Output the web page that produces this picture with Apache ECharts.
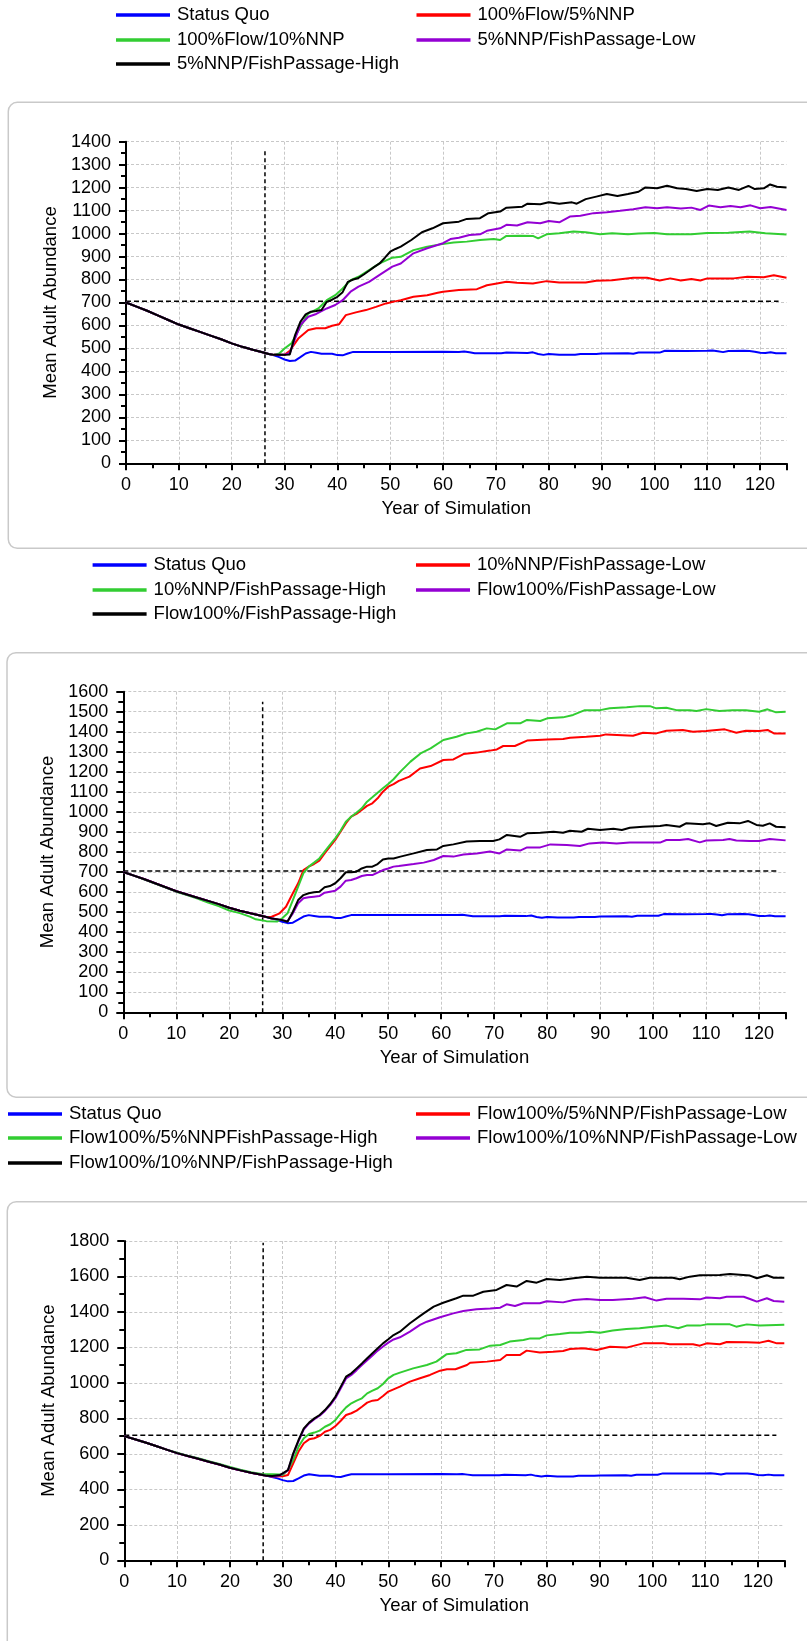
<!DOCTYPE html>
<html>
<head>
<meta charset="utf-8">
<script src="https://cdn.jsdelivr.net/npm/echarts@6/dist/echarts.min.js"></script>
<style>
  html, body { margin: 0; padding: 0; background: #ffffff; }
  #chart { width: 807px; height: 1641px; }
</style>
</head>
<body>
<div id="chart"></div>
<script>
// Simulated mean adult abundance by year, three scenario groups.

// Shared early decline (years 0-27) before management actions take effect
const decline = [[0,700],[2,682],[4,664],[6,644],[8,624],[10,604],[12,588],[14,572],[16,556],[18,540],[20,522],[22,507],[24,494],[26,482],[27,476]];

// Status Quo (same run in every group)
const statusQuo = decline.concat([[28,470],[29,462],[30,452],[31,445],[32,447],[33,462],[34,478],[35,485],[36,481],[37,477],[39,477],[40,471],[41,470],[42,478],[43,485],[50,485],[60,486],[63,485],[64,487],[65,483],[66,479],[71,479],[72,482],[76,480],[77,483],[78,476],[79,472],[80,476],[82,473],[85,473],[86,476],[89,476],[90,478],[95,479],[96,477],[97,482],[101,482],[102,490],[106,489],[110,490],[111,491],[112,488],[113,484],[114,489],[117,490],[118,489],[119,486],[120,481],[121,480],[122,483],[123,479],[125,479]]);

// Group 1
const g1Flow5 = decline.concat([[28,472],[30,472],[31,490],[32.6,543],[34.5,580],[36,588],[37.7,588],[39,599],[40.3,605],[41.6,645],[43.5,657],[45.4,667],[47.3,681],[49.2,696],[51.1,706],[52,710],[54.4,725],[57,732],[59,742],[60,747],[63,754],[66.4,758],[68.3,775],[70.2,783],[72,790],[74,786],[77,783],[79.6,793],[82,787],[87,787],[89,795],[92,797],[96,808],[98.6,808],[101,796],[103,805],[105,796],[107,802],[108.7,796],[110,805],[115,805],[117.6,812],[120.7,810],[122.6,819],[125,808]]);
const g1Flow10 = decline.concat([[28,472],[29,478],[30,500],[31.3,522],[33.2,602],[34.5,652],[36.4,674],[38,710],[39.6,732],[41,761],[42.5,797],[44,812],[46,841],[48,870],[50.4,895],[52,899],[54.4,928],[57,943],[59.5,953],[62,961],[64.5,965],[67,972],[69.6,976],[70.8,972],[72,990],[74.6,991],[77,990],[78,979],[79.6,997],[82,1001],[84.7,1009],[87,1006],[89.7,997],[92,1001],[95,997],[97,1000],[100,1003],[102.4,997],[107,997],[110,1003],[114,1004],[118,1009],[121,1001],[125,996]]);
const g1PassLow = decline.concat([[28,472],[30,472],[31,480],[32,543],[33,602],[34.5,638],[36,650],[38,674],[39.6,689],[41,710],[42.5,747],[44,769],[46,790],[48,820],[50.4,856],[52,870],[54.4,914],[57,936],[60,958],[61.4,976],[63,982],[65,994],[67,997],[68.3,1012],[70.8,1023],[72,1038],[74,1035],[76,1049],[78.4,1045],[80,1055],[82,1049],[84,1074],[86,1078],[88.5,1089],[91,1093],[93.5,1099],[96,1106],[98.3,1115],[100.5,1110],[102.4,1115],[105,1109],[107,1113],[108.7,1103],[110.3,1122],[112.5,1115],[114.4,1120],[116.3,1115],[118.2,1123],[120,1110],[122,1116],[125,1103]]);
const g1PassHigh = decline.concat([[28,472],[30,472],[31,474],[32,558],[33,616],[34,648],[35,660],[36,663],[37,667],[38,703],[39,712],[40,725],[41,745],[42,790],[43,800],[44,807],[45,822],[46,838],[47,855],[48,870],[49,895],[50,921],[51,933],[52,943],[54,972],[56,1006],[58,1023],[60,1045],[63,1052],[64.5,1064],[67,1067],[68.6,1089],[70.8,1096],[72,1113],[75,1117],[76,1130],[78.4,1128],[80,1136],[82,1130],[84.4,1136],[85.3,1130],[87,1150],[89,1161],[91,1172],[93,1164],[95,1172],[97,1182],[98.3,1201],[100.5,1197],[102.4,1208],[104.3,1197],[106,1194],[108,1185],[110,1194],[112,1190],[114,1201],[116,1190],[117.8,1208],[119,1194],[120.7,1197],[121.9,1214],[123.2,1204],[125,1201]]);

// Group 2
const g2NnpLow = decline.concat([[28,477],[29.5,494],[30.7,527],[32,594],[33,644],[34,710],[35,727],[36,740],[37,757],[38,793],[39,827],[40,860],[41,901],[42,943],[43,976],[44,990],[45,1010],[46,1030],[47,1043],[48,1068],[49,1101],[50,1126],[51,1139],[52,1155],[54,1176],[56,1217],[58,1229],[60.4,1259],[62.3,1262],[64.2,1289],[66.7,1296],[69.2,1306],[70.5,1312],[71.7,1329],[73.9,1329],[76.2,1356],[80,1362],[83,1364],[84.3,1370],[87.4,1375],[90,1380],[91.1,1387],[96.2,1380],[98.1,1395],[100.6,1392],[102.5,1405],[105.6,1409],[107.5,1400],[110,1404],[113.5,1412],[115.7,1395],[117.5,1405],[120,1404],[121.6,1409],[122.8,1392],[125,1392]]);
const g2NnpHigh = [[0,700],[2,682],[4,662],[6,642],[8,622],[10,602],[12,585],[14,568],[16,548],[18,530],[20,508],[22,495],[24,476],[25,464],[27,455],[29,453],[30,469],[31,494],[32,560],[33,627],[34,694],[35,727],[36,747],[37,768],[38,802],[39,835],[40,868],[41,906],[42,951],[43,976],[44,996],[45,1018],[46,1051],[47,1073],[48,1096],[49,1118],[50,1139],[51,1163],[52.3,1201],[54.2,1251],[56.1,1292],[58,1317],[60.4,1359],[62.9,1375],[64.8,1392],[66.7,1400],[68.6,1417],[70.2,1412],[72.4,1442],[74.9,1442],[76.2,1459],[78.7,1454],[80,1467],[83,1472],[84.9,1484],[87.1,1508],[90,1508],[91.8,1517],[95,1522],[97.5,1528],[99.4,1528],[100.6,1517],[102.5,1520],[104.4,1508],[106.9,1508],[108.2,1504],[110,1513],[112.5,1504],[115,1508],[117.5,1508],[120,1500],[121.6,1512],[123.2,1497],[125,1500]];
const g2FlowLow = decline.concat([[28,468],[29,465],[30,460],[31,455],[32,494],[33,544],[34,569],[35,574],[36,577],[37,580],[38,597],[39,602],[40,607],[41,627],[42,657],[43,660],[44,669],[45,680],[46,685],[47,685],[48,697],[49,710],[50,718],[51,727],[52,730],[54.8,740],[56.7,747],[58.6,760],[60.4,780],[62.3,777],[64.2,788],[66.7,793],[69.2,802],[71,793],[72.4,813],[74.9,807],[76.2,823],[78.7,823],[80.6,838],[83.7,835],[86.2,830],[88,843],[90.5,847],[93.1,843],[95.6,847],[101.3,847],[102.5,860],[105,860],[106.6,865],[108.8,848],[110,857],[113.2,860],[114.4,865],[115.7,857],[118.2,855],[120,855],[122,865],[125,858]]);
const g2FlowHigh = decline.concat([[28,468],[29,465],[30,460],[31,452],[32,502],[33,560],[34,585],[35,594],[36,599],[37,602],[38,624],[39,630],[40,644],[41,669],[42,699],[43,699],[44,702],[45,718],[46,727],[47,727],[48,740],[49,763],[50,768],[51,768],[52.3,777],[54.8,793],[57.3,810],[59.2,813],[60.4,830],[62.3,838],[64.8,852],[67.3,855],[69.8,855],[71,863],[72.4,885],[74.9,876],[76.2,893],[78.7,896],[81.2,901],[83,896],[84.3,906],[86.5,901],[87.7,916],[90,910],[92.5,916],[94.1,910],[95.6,921],[98.1,926],[101.3,930],[102.5,935],[105,926],[106.2,943],[109.4,938],[110.7,943],[111.9,930],[114.1,946],[116.3,943],[117.9,955],[119.5,935],[120.7,931],[122,943],[123.2,926],[125,923]]);

// Group 3
const g3Nnp5Low = decline.concat([[28,472],[30,474],[31,481],[32,547],[33,613],[34,660],[35,682],[36,688],[37,701],[38,725],[39,735],[40,757],[41,787],[42,819],[43,829],[44,844],[45,866],[46,889],[47,900],[48,904],[49,926],[50,951],[51,964],[52.2,979],[54.1,1007],[56,1026],[57.9,1045],[59.8,1069],[61.1,1077],[62.7,1077],[64.9,1101],[65.5,1114],[68.7,1120],[71.2,1129],[72.4,1157],[74.9,1157],[76.2,1182],[78.7,1171],[81.2,1176],[83.1,1180],[84.4,1191],[86.9,1195],[89.5,1186],[92,1204],[95.1,1199],[98.3,1223],[102.1,1223],[103.3,1218],[107.7,1218],[109,1210],[110.3,1223],[112.8,1218],[114.1,1231],[117.9,1229],[120.4,1227],[122,1238],[123.6,1223],[125,1223]]);
const g3Nnp5High = [[0,700],[2,682],[4,664],[6,644],[8,624],[10,606],[12,590],[14,575],[16,558],[18,543],[20,526],[22,510],[24,497],[26,486],[28,485],[29.5,483],[30,481],[31,509],[32,566],[33,641],[34,688],[35,712],[36,720],[37,731],[38,753],[39,767],[40,791],[41,829],[42,862],[43,885],[44,900],[45,913],[46,941],[47,956],[48,970],[49,994],[50,1026],[51,1045],[52.2,1058],[54.7,1082],[57.3,1101],[59.1,1120],[61,1161],[62.9,1167],[64.8,1186],[67.3,1189],[69.3,1210],[71.2,1214],[73,1233],[75.6,1242],[76.9,1251],[78.7,1251],[80,1268],[82.5,1276],[84.4,1283],[86.3,1283],[88.2,1289],[90.1,1283],[92.5,1295],[95.1,1304],[97.6,1308],[100.2,1317],[102.7,1323],[104.9,1308],[106.5,1323],[109,1323],[110.3,1330],[114.7,1330],[115.9,1317],[117.9,1330],[120.4,1323],[125,1328]];
const g3Nnp10Low = decline.concat([[28,473],[29.5,478],[30,488],[31,507],[32,598],[33,672],[34,738],[35,772],[36,795],[37,815],[38,842],[39,875],[40,915],[41,970],[42,1025],[43,1045],[44,1072],[45,1101],[46,1128],[47,1155],[48,1182],[49,1205],[50,1227],[51,1245],[52.2,1257],[54.1,1289],[56,1327],[57.3,1345],[59.8,1370],[62.3,1392],[64.2,1405],[66.7,1415],[69.3,1420],[71.2,1424],[72.4,1443],[74,1434],[75.6,1449],[78.7,1449],[80,1460],[83.1,1454],[85.1,1467],[87.6,1473],[90.1,1467],[92.5,1467],[96.3,1475],[98.6,1483],[100.8,1464],[102.7,1475],[105.9,1475],[109,1471],[110.3,1481],[112.8,1477],[114.1,1486],[117.3,1486],[118.5,1473],[119.8,1458],[121.7,1477],[123,1462],[125,1458]]);
const g3Nnp10High = decline.concat([[28,475],[29.5,481],[30,490],[31,509],[32,603],[33,678],[34,744],[35,776],[36,800],[37,819],[38,847],[39,881],[40,923],[41,979],[42,1035],[43,1054],[44,1082],[45,1110],[46,1139],[47,1167],[48,1195],[49,1223],[50,1246],[51,1270],[52.2,1289],[54.1,1336],[56.7,1392],[58.6,1430],[60.4,1452],[62.9,1477],[64.2,1492],[66.1,1492],[68,1514],[70.5,1524],[72.4,1552],[74.3,1543],[76.2,1575],[78.1,1565],[80,1586],[82.5,1580],[85.1,1590],[87.6,1599],[90.1,1593],[95.1,1593],[97.6,1580],[99.5,1593],[103.9,1593],[105.2,1584],[107.1,1599],[109,1607],[112.8,1608],[114.7,1614],[118.5,1605],[119.8,1590],[121.7,1607],[123,1593],[125,1593]]);

// Reference markers: starting-abundance level and the year actions begin
const targetLevel = [[0,705],[123.5,705]];
const actionYear = [[26.3,0],[26.3,1371]];
const actionYear2 = [[26.3,0],[26.3,1550]];
const actionYear3 = [[26.3,0],[26.3,1790]];

// Axis ranges / tick spacing per group
const yMax = [1400, 1600, 1800];
const yStep = [100, 100, 200];
const xMax = 125, xStep = 10;

const groups = [
  { names: ['Status Quo','100%Flow/5%NNP','100%Flow/10%NNP','5%NNP/FishPassage-Low','5%NNP/FishPassage-High'],
    data: [statusQuo, g1Flow5, g1Flow10, g1PassLow, g1PassHigh], vline: actionYear },
  { names: ['Status Quo','10%NNP/FishPassage-Low','10%NNP/FishPassage-High','Flow100%/FishPassage-Low','Flow100%/FishPassage-High'],
    data: [statusQuo, g2NnpLow, g2NnpHigh, g2FlowLow, g2FlowHigh], vline: actionYear2 },
  { names: ['Status Quo','Flow100%/5%NNP/FishPassage-Low','Flow100%/5%NNPFishPassage-High','Flow100%/10%NNP/FishPassage-Low','Flow100%/10%NNP/FishPassage-High'],
    data: [statusQuo, g3Nnp5Low, g3Nnp5High, g3Nnp10Low, g3Nnp10High], vline: actionYear3 }
];

const colors = ['#0000ff', '#ff0000', '#32cd32', '#9400d3', '#000000'];
const FONT = '"Liberation Sans", Arial, sans-serif';

// Layout
const gridBoxes = [
  { left: 126, top: 141.7, width: 660.5, height: 321.6 },
  { left: 123.3, top: 691.7, width: 662.3, height: 320.6 },
  { left: 124.3, top: 1241, width: 660, height: 319.3 }
];
const legendLayout = [
  { col1: 116, col2: 416.5, rows: [15, 40, 64] },
  { col1: 92.6, col2: 416, rows: [565, 590, 614] },
  { col1: 8, col2: 416, rows: [1114, 1138, 1163] }
];
const panelBoxes = [
  { x: 8.3, y: 102.3, h: 446 },
  { x: 7, y: 652.7, h: 444.5 },
  { x: 7.3, y: 1201.7, h: 600 }
];

const gridLine = { color: '#c8c8c8', width: 1, type: [3, 2] };

const option = {
  backgroundColor: '#ffffff',
  animation: false,
  textStyle: { fontFamily: FONT, color: '#000' },
  grid: gridBoxes.map(b => Object.assign({ containLabel: false }, b)),
  xAxis: gridBoxes.map((b, i) => ({
    type: 'value', gridIndex: i, min: 0, max: xMax, interval: xStep,
    name: 'Year of Simulation', nameLocation: 'middle', nameGap: 36,
    nameTextStyle: { fontSize: 18.5, color: '#000', fontFamily: FONT },
    axisLine: { onZero: false, lineStyle: { color: '#000', width: 2 } },
    axisTick: { show: true, length: 7, lineStyle: { color: '#000', width: 2 } },
    minorTick: { show: true, splitNumber: 2, length: 5, lineStyle: { color: '#000', width: 2 } },
    axisLabel: { fontSize: 18, color: '#000', margin: 12.5, fontFamily: FONT, showMaxLabel: false,
      formatter: v => (v % xStep === 0 ? String(v) : '') },
    splitLine: { show: true, showMaxLine: false, lineStyle: gridLine }
  })),
  yAxis: gridBoxes.map((b, i) => ({
    type: 'value', gridIndex: i, min: 0, max: yMax[i], interval: yStep[i],
    name: 'Mean Adult Abundance', nameLocation: 'middle', nameGap: 62,
    nameTextStyle: { fontSize: 18.5, color: '#000', fontFamily: FONT },
    axisLine: { show: true, onZero: false, lineStyle: { color: '#000', width: 2 } },
    axisTick: { show: true, length: 7, lineStyle: { color: '#000', width: 2 } },
    minorTick: { show: true, splitNumber: 2, length: 5, lineStyle: { color: '#000', width: 2 } },
    axisLabel: { fontSize: 18, color: '#000', margin: 15, fontFamily: FONT, formatter: v => String(v) },
    splitLine: { show: true, showMinLine: false, lineStyle: gridLine }
  })),
  legend: [],
  graphic: panelBoxes.map(p => ({
    type: 'rect', silent: true, z: -10,
    shape: { x: p.x, y: p.y, width: 860, height: p.h, r: 9 },
    style: { fill: '#ffffff', stroke: '#c9c9c9', lineWidth: 1.5 }
  })),
  series: []
};

groups.forEach((g, gi) => {
  // reference markers drawn under the scenario lines
  option.series.push({
    type: 'line', xAxisIndex: gi, yAxisIndex: gi, data: targetLevel, silent: true,
    symbol: 'none', z: 1, lineStyle: { color: '#000', width: 1.5, type: [5, 3] }
  });
  option.series.push({
    type: 'line', xAxisIndex: gi, yAxisIndex: gi, data: g.vline, silent: true,
    symbol: 'none', z: 1, lineStyle: { color: '#000', width: 1.5, type: [4, 3] }
  });
  g.names.forEach((name, si) => {
    option.series.push({
      name: name, type: 'line', xAxisIndex: gi, yAxisIndex: gi,
      data: g.data[si], symbol: 'none', z: 2 + si,
      color: colors[si],
      lineStyle: { color: colors[si], width: 2 }
    });
  });
  // legend: two columns, three rows
  const L = legendLayout[gi];
  const slots = [[L.col1, L.rows[0]], [L.col2, L.rows[0]], [L.col1, L.rows[1]], [L.col2, L.rows[1]], [L.col1, L.rows[2]]];
  g.names.forEach((name, si) => {
    option.legend.push({
      data: [{ name: name, itemStyle: { color: colors[si] } }],
      left: slots[si][0], top: slots[si][1] - 9.5,
      padding: 0, icon: 'rect', itemWidth: 54, itemHeight: 3.5, itemGap: 0,
      selectedMode: false,
      textStyle: { fontSize: 18.5, color: '#000', fontFamily: FONT, padding: [0, 0, 0, 2] }
    });
  });
});

const chart = echarts.init(document.getElementById('chart'), null, { renderer: 'canvas' });
chart.setOption(option);
</script>
</body>
</html>
